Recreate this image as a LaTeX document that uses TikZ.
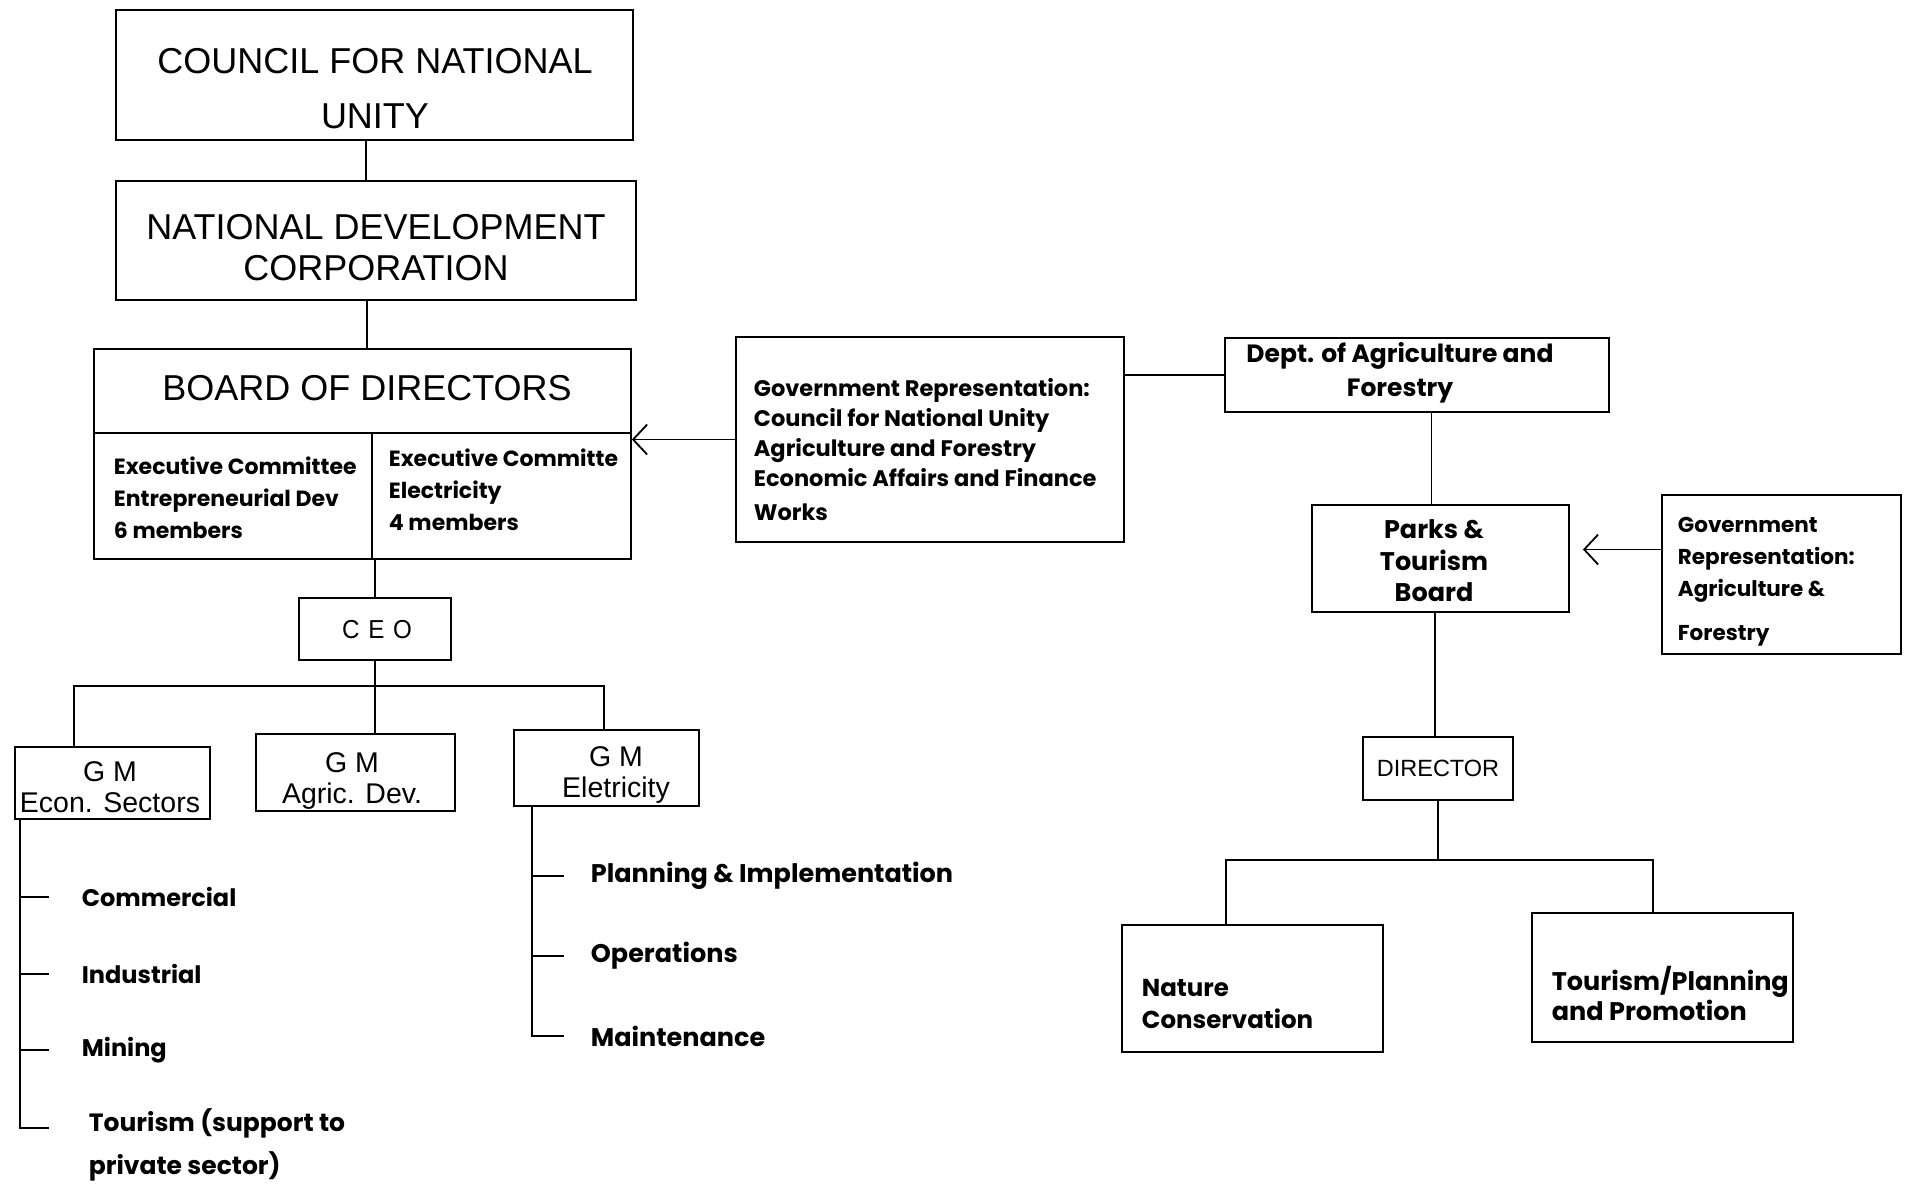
\documentclass[tikz,border=0pt]{standalone}
\usepackage{fontspec}
\usetikzlibrary{arrows.meta,fit}
\newfontfamily\titlefont{Liberation Sans}
\newfontfamily\ceofont[FakeStretch=0.93]{Liberation Sans}
\newfontfamily\bodyfont{Poppins}
\begin{document}
\begin{tikzpicture}[x=1pt,y=-1pt,line width=1.8pt,
  bx/.style={draw,line width=1.8pt,inner sep=0pt},
  bigt/.style={font=\titlefont\fontsize{36}{55}\selectfont,align=center,inner sep=0pt},
  midt/.style={font=\titlefont\fontsize{28.5}{31}\selectfont,align=center,inner sep=0pt},
  bodyt/.style={align=left,inner sep=0pt},
  arr/.style={-{Straight Barb[length=14pt,width=30pt,line width=1.8pt]}}]
\useasboundingbox[fill=white] (0,0) rectangle (1913,1187);

% ---- left column ----
\node[bx,fit={(116,10) (633,140)}] (cnu) {};
\node[bigt] (cnut) at (375,88.5) {COUNCIL FOR NATIONAL\\UNITY};
\node[bx,fit={(116,181) (636,300)}] (ndc) {};
\node[bigt,font=\titlefont\fontsize{36}{41}\selectfont] (ndct) at (376,247.5) {NATIONAL DEVELOPMENT\\CORPORATION};
\node[bx,fit={(94,349) (631,559)}] (board) {};
\node[bigt] (boardt) at (367,388) {BOARD OF DIRECTORS};
\draw (board.west |- 0,433) -- (board.east |- 0,433);
\draw (372,433) -- (372,559);
\node[bodyt,font=\bodyfont\bfseries\fontsize{22}{32}\selectfont,anchor=west] (exl) at (113,498) {Executive Committee\\Entrepreneurial Dev\\6 members};
\node[bodyt,font=\bodyfont\bfseries\fontsize{22}{32}\selectfont,anchor=west] (exr) at (388,490) {Executive Committe\\Electricity\\4 members};

\node[bx,fit={(736,337) (1124,542)}] (gov) {};
\node[bodyt,font=\bodyfont\bfseries\fontsize{22.5}{30}\selectfont,anchor=west] (govt) at (753,450) {Government Representation:\\Council for National Unity\\Agriculture and Forestry\\Economic Affairs and Finance\\[4pt]Works};

\node[bx,fit={(299,598) (451,660)}] (ceo) {};
\node[midt,font=\ceofont\fontsize{26}{31}\selectfont] (ceot) at (377,630) {C\,\,E\,\,O};
\node[bx,fit={(15,747) (210,819)}] (gme) {};
\node[midt] (gmet) at (110,787) {G M\\Econ. Sectors};
\node[bx,fit={(256,734) (455,811)}] (gma) {};
\node[midt] (gmat) at (352,781) {G M\\Agric. Dev.};
\node[bx,fit={(514,730) (699,806)}] (gml) {};
\node[midt] (gmlt) at (616,775) {G M\\Eletricity};

% connectors left
\draw ([xshift=-8.5]cnu.south) -- ([xshift=-8.5]cnu.south |- ndc.north);
\draw ([xshift=-9]ndc.south) -- ([xshift=-9]ndc.south |- board.north);
\draw (ceo.north) -- (ceo.north |- board.south);
\draw (ceo.south) -- (gma.north -| ceo.south);
\coordinate (bus) at (0,686);
\draw ([xshift=-38.5]gme.north) |- ([xshift=-2.5]gml.north |- bus) -- ([xshift=-2.5]gml.north);
\draw[arr] (gov.west) -- (gov.west -| board.east);

% econ list
\node[bodyt,font=\bodyfont\bfseries\fontsize{24}{43}\selectfont,anchor=west] (lcom) at (81,897) {Commercial};
\node[bodyt,font=\bodyfont\bfseries\fontsize{24}{43}\selectfont,anchor=west] (lind) at (81,974) {Industrial};
\node[bodyt,font=\bodyfont\bfseries\fontsize{24}{43}\selectfont,anchor=west] (lmin) at (81,1050) {Mining};
\node[bodyt,font=\bodyfont\bfseries\fontsize{25}{43}\selectfont,anchor=north west] (ltour) at (88,1108) {Tourism (support to\\private sector)};
\draw ([xshift=6]gme.south west) |- ([shift={(-39,20)}]ltour.north west);
\draw ([xshift=-32]lcom.west) -- ([xshift=-60]lcom.west);
\draw ([xshift=-32]lind.west) -- ([xshift=-60]lind.west);
\draw ([xshift=-32]lmin.west) -- ([xshift=-60]lmin.west);

% electricity list
\node[bodyt,font=\bodyfont\bfseries\fontsize{25.5}{30}\selectfont,anchor=west] (lpla) at (590,876) {Planning \& Implementation};
\node[bodyt,font=\bodyfont\bfseries\fontsize{25.5}{30}\selectfont,anchor=west] (lope) at (590,956) {Operations};
\node[bodyt,font=\bodyfont\bfseries\fontsize{25.5}{30}\selectfont,anchor=west] (lmai) at (590,1036) {Maintenance};
\draw ([xshift=19]gml.south west) |- ([xshift=-26]lmai.west);
\draw ([xshift=-26]lpla.west) -- ([xshift=-57]lpla.west);
\draw ([xshift=-26]lope.west) -- ([xshift=-57]lope.west);

% ---- right column ----
\node[bx,fit={(1225,338) (1609,412)}] (dept) {};
\node[bodyt,align=center,font=\bodyfont\bfseries\fontsize{25}{34}\selectfont] (deptt) at (1400,373) {Dept. of Agriculture and\\Forestry};
\node[bx,fit={(1312,505) (1569,612)}] (parks) {};
\node[bodyt,align=center,font=\bodyfont\bfseries\fontsize{25.5}{31.5}\selectfont] (parkst) at (1434,561) {Parks \&\\Tourism\\Board};
\node[bx,fit={(1662,495) (1901,654)}] (gov2) {};
\node[bodyt,font=\bodyfont\bfseries\fontsize{21.5}{32}\selectfont,anchor=west] (gov2t) at (1677,582) {Government\\Representation:\\Agriculture \&\\[12pt]Forestry};
\node[bx,fit={(1363,737) (1513,800)}] (dir) {};
\node[midt,font=\titlefont\fontsize{23.5}{28}\selectfont] (dirt) at (1438,768) {DIRECTOR};
\node[bx,fit={(1122,925) (1383,1052)}] (nat) {};
\node[bodyt,font=\bodyfont\bfseries\fontsize{24.5}{32}\selectfont,anchor=west] (natt) at (1141,1004) {Nature\\Conservation};
\node[bx,fit={(1532,913) (1793,1042)}] (tou) {};
\node[bodyt,font=\bodyfont\bfseries\fontsize{25.5}{30}\selectfont,anchor=west] (tout) at (1551,993) {Tourism/Planning\\and Promotion};

\draw (dept.west) -- (dept.west -| gov.east);
\draw ([xshift=-9]parks.north) -- ([xshift=-9]parks.north |- dept.south);
\coordinate (pa) at ([yshift=9]parks.east);
\draw[arr] (pa -| gov2.west) -- ([xshift=13]pa);
\draw ([xshift=-3]dir.north) -- ([xshift=-3]dir.north |- parks.south);
\coordinate (rbus) at (0,860);
\draw (dir.south) -- (dir.south |- rbus);
\draw ([xshift=-26.5]nat.north) |- ([xshift=-9.5]tou.north |- rbus) -- ([xshift=-9.5]tou.north);
\end{tikzpicture}
\end{document}
